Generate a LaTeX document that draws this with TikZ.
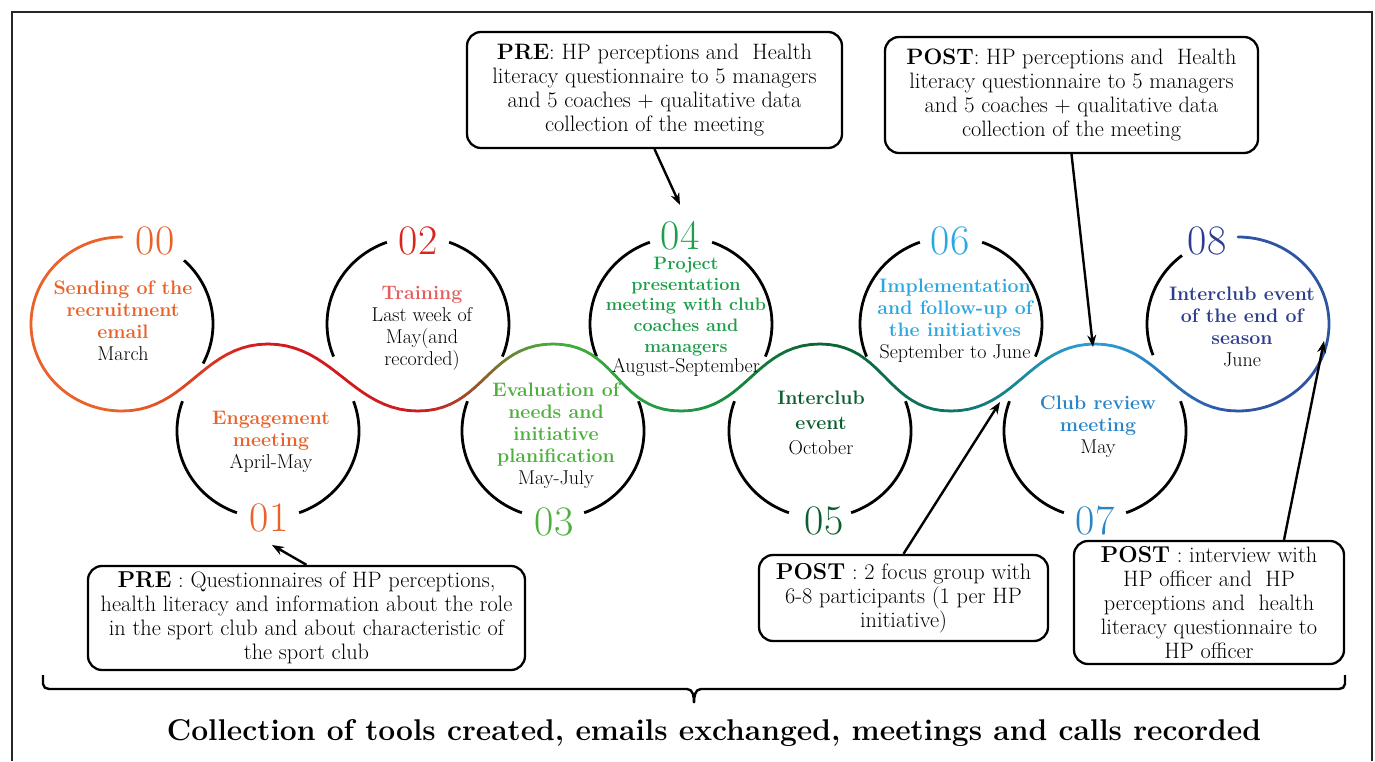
\documentclass[tikz,border=0pt]{standalone}
\usetikzlibrary{arrows.meta}
% wave colours, one per circle
\definecolor{wv0}{HTML}{E8622A}
\definecolor{wv1}{HTML}{D3191D}
\definecolor{wv2}{HTML}{CF1B1F}
\definecolor{wv3}{HTML}{46AC3A}
\definecolor{wv4}{HTML}{1F9A47}
\definecolor{wv5}{HTML}{0C6532}
\definecolor{wv6}{HTML}{0E7466}
\definecolor{wv7}{HTML}{2C9ED8}
\definecolor{wv8}{HTML}{2E55A2}
% label colours
\definecolor{tx0}{HTML}{E8622A}
\definecolor{tx1}{HTML}{E8622A}
\definecolor{tx2}{HTML}{E35D5F}
\definecolor{nm2}{HTML}{D7261E}
\definecolor{tx3}{HTML}{4DAF3D}
\definecolor{tx4}{HTML}{1E9E4A}
\definecolor{tx5}{HTML}{0B5E2E}
\definecolor{tx6}{HTML}{2BA8E0}
\definecolor{tx7}{HTML}{2A85C7}
\definecolor{tx8}{HTML}{2B3D8C}
\newcommand\tagfont{\fontsize{23}{24}\selectfont\bfseries}
\newcommand\dl{\fontsize{20}{22}\selectfont\mdseries\color{black}}
\begin{document}
\begin{tikzpicture}[x=1pt,y=1pt,
  declare function={bz(\t,\p,\q,\r,\s)=(1-\t)^3*\p+3*(1-\t)^2*\t*\q+3*(1-\t)*\t^2*\r+\t^3*\s;},
  wave/.style={line width=2.8pt,line cap=round},
  arcline/.style={line width=2.8pt},
  numlbl/.style={inner sep=0pt,font=\fontsize{42}{42}\selectfont},
  stagetxt/.style={align=center,inner sep=0pt,font=\fontsize{19.5}{22}\selectfont\bfseries},
  notebox/.style={draw,line width=2.3pt,rounded corners=14pt,align=center,inner sep=2pt,font=\fontsize{22.3}{24}\selectfont},
  pointer/.style={line width=2.4pt,-{Stealth[length=12pt,width=9pt]}}]
\useasboundingbox (0,0) rectangle (1375,761);

% open frame
\draw[line width=2pt,black!85] (12,0) -- (12,749) -- (1372,749) -- (1372,0);

% circle centres
\foreach \k/\x/\y in {0/122/437,1/268/330,2/418/437,3/553/330,4/681/437,5/820/330,6/951/437,7/1095/330,8/1238/437}
  \coordinate (c\k) at (\x,\y);

% black parts of the circles
\foreach \k/\sA/\sB in {0/-27/47, 2/110/202, 2/-22/70, 4/110/202, 4/-22/70, 6/110/202, 6/-22/70, 8/128/201,
    1/160/250, 1/290/380, 3/160/250, 3/290/380, 5/160/250, 5/290/380, 7/160/250, 7/290/380}
  \draw[arcline] (c\k) ++(\sA:91 and 87) arc[start angle=\sA,end angle=\sB,x radius=91,y radius=87];

% coloured wave: first and last circle
\draw[wave,draw=wv0] (c0) ++(90:91 and 87) arc[start angle=90,end angle=270,x radius=91,y radius=87];
\draw[wave,draw=wv8] (c8) ++(270:91 and 87) arc[start angle=270,end angle=450,x radius=91,y radius=87];
% coloured wave: from one extreme to the next
\foreach \k/\l/\xa/\ya/\xb/\yb in {0/1/122/350/268/417, 1/2/268/417/418/350, 2/3/418/350/553/417,
    3/4/553/417/681/350, 4/5/681/350/820/417, 5/6/820/417/951/350, 6/7/951/350/1095/417, 7/8/1095/417/1238/350} {
  \foreach \i in {1,...,20} {
    \pgfmathsetmacro\ta{(\i-1)/20}
    \pgfmathsetmacro\tb{\i/20}
    \pgfmathtruncatemacro\pc{100*(\i-0.5)/20}
    \draw[wave,draw=wv\l!\pc!wv\k]
      ({bz(\ta,\xa,\xa+65,\xb-65,\xb)},{bz(\ta,\ya,\ya,\yb,\yb)}) --
      ({bz(\tb,\xa,\xa+65,\xb-65,\xb)},{bz(\tb,\ya,\ya,\yb,\yb)});
  }
}

% numbers
\foreach \k/\x/\y/\col in {0/155/520/tx0, 1/269/243/tx1, 2/418/520/nm2, 3/554/239/tx3, 4/680/525/tx4,
    5/824/240/tx5, 6/950/520/tx6, 7/1095/240/tx7, 8/1207/520/tx8}
  \node[numlbl,text=\col] (n\k) at (\x,\y) {0\k};

% stage texts
\node[stagetxt,text=tx0] (t0) at (123,440) {Sending of the\\recruitment\\email\\\dl March};
\node[stagetxt,text=tx1] (t1) at (271,319) {Engagement\\meeting\\\dl April-May};
\node[stagetxt,text=tx2] (t2) at (422,433) {Training\\\dl Last week of\\\dl May(and\\\dl recorded)};
\node[stagetxt,text=tx3] (t3) at (556,325) {Evaluation of\\needs and\\initiative\\planification\\\dl May-July};
\node[stagetxt,text=tx4,font=\fontsize{18}{20.7}\selectfont\bfseries] (t4) at (686,444)
  {Project\\presentation\\meeting with club\\coaches and\\managers\\\dl August-September};
\node[stagetxt,text=tx5,font=\fontsize{19.5}{25}\selectfont\bfseries] (t5) at (821,338) {Interclub\\event\\\dl October};
\node[stagetxt,text=tx6] (t6) at (955,440) {Implementation\\and follow-up of\\the initiatives\\\dl September to June};
\node[stagetxt,text=tx7] (t7) at (1098,334) {Club review\\meeting\\\dl May};
\node[stagetxt,text=tx8] (t8) at (1242,434) {Interclub event\\of the end of\\season\\\dl June};

% data collection boxes
\node[notebox,minimum width=375pt,minimum height=116pt] (pre2) at (654.5,671)
  {\textbf{PRE}: HP perceptions and~ Health\\literacy questionnaire to 5 managers\\and 5 coaches + qualitative data\\collection of the meeting};
\node[notebox,minimum width=373pt,minimum height=116pt] (post2) at (1071.5,666)
  {\textbf{POST}: HP perceptions and~ Health\\literacy questionnaire to 5 managers\\and 5 coaches + qualitative data\\collection of the meeting};
\node[notebox,minimum width=437pt,minimum height=104pt] (pre1) at (306.5,143)
  {{\tagfont PRE} : Questionnaires of HP perceptions,\\health literacy and information about the role\\in the sport club and about characteristic of\\the sport club};
\node[notebox,minimum width=289pt,minimum height=86pt] (post1) at (903.5,163)
  {{\tagfont POST} : 2 focus group with\\6-8 participants (1 per HP\\initiative)};
\node[notebox,minimum width=270pt,minimum height=123pt] (post3) at (1209,158.5)
  {{\tagfont POST} : interview with\\HP officer and~ HP\\perceptions and~ health\\literacy questionnaire to\\HP officer};

% arrow ends
\coordinate (tip1) at (272,216);
\coordinate (tip2) at (680,556);
\coordinate (tip3) at (1093,414);
\coordinate (tip4) at (1000,359);
\coordinate (tip5) at (1324,420);
\draw[pointer] (pre1.north) -- (tip1);
\draw[pointer] (pre2.south) -- (tip2);
\draw[pointer] (post2.south) -- (tip3);
\draw[pointer] (post1.north) -- (tip4);
\draw[pointer] ([xshift=75pt]post3.north) -- (tip5);

% brace and caption
\draw[line width=2.4pt] (43,86) -- (43,77) to[out=-90,in=180] (49,72) -- (687,72) to[out=0,in=90] (694,58)
  to[out=90,in=180] (701,72) -- (1339,72) to[out=0,in=-90] (1345,77) -- (1345,86);
\node[font=\fontsize{30}{34}\selectfont\bfseries,anchor=base] (coll) at (714,21)
  {Collection of tools created, emails exchanged, meetings and calls recorded};
\end{tikzpicture}
\end{document}
